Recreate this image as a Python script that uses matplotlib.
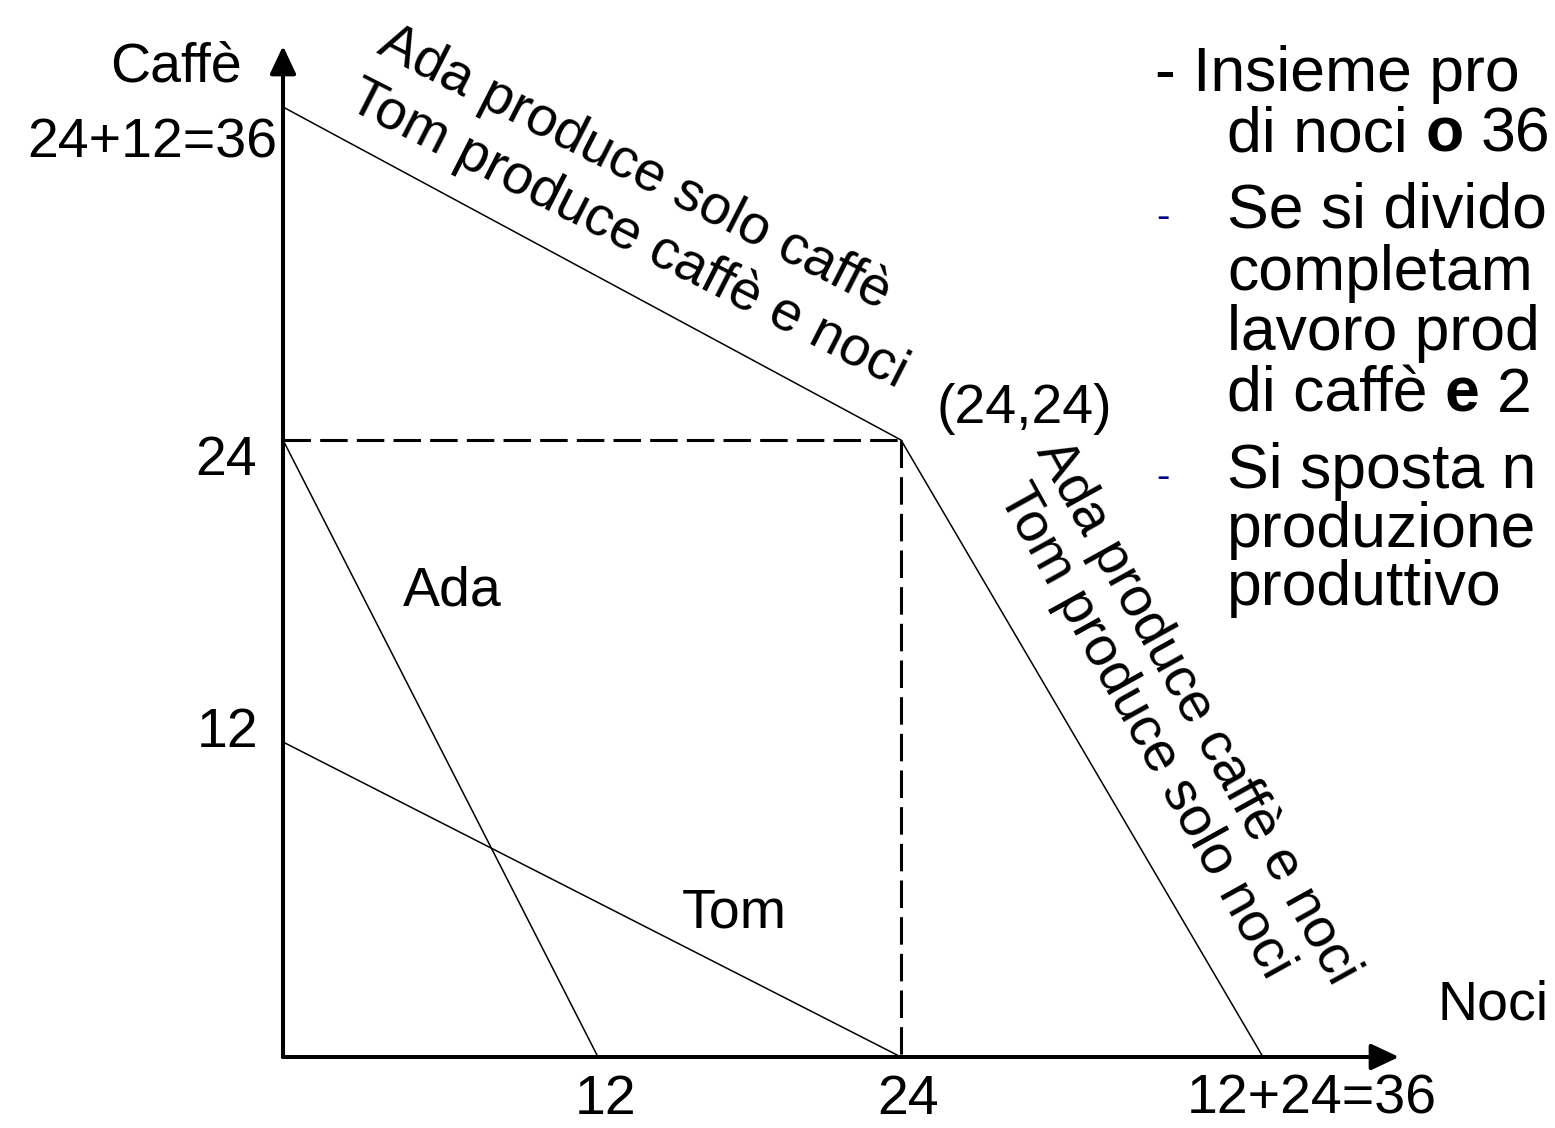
import numpy as np
import matplotlib
matplotlib.use("Agg")
import matplotlib.pyplot as plt

# ---------------- data ----------------
noci_ticks = [12, 24, 36]
noci_tick_labels = ["12", "24", "12+24=36"]
caffe_ticks = [12, 24, 36]
caffe_tick_labels = ["12", "24", "24+12=36"]

ada_noci = [0, 12]
ada_caffe = [24, 0]
tom_noci = [0, 24]
tom_caffe = [12, 0]
ppf_noci = [0, 24, 36]
ppf_caffe = [36, 24, 0]
corner = (24, 24)

# visible part of the slide text (cut by the right edge in the original)
bullet_lines = [
    [("- Insieme prod", False)],
    [("di noci", False), ("o", True), ("36", False)],
    [("Se si divido", False)],
    [("completame", False)],
    [("lavoro produ", False)],
    [("di caffè", False), ("e", True), ("24", False)],
    [("Si sposta ne", False)],
    [("produzione", False)],
    [("produttivo", False)],
]

# ---------------- layout ----------------
W, H = 1555, 1128
FONT = ["Liberation Sans", "DejaVu Sans"]
plt.rcParams["font.family"] = FONT

fig = plt.figure(figsize=(W / 100, H / 100), dpi=100)
fig.patch.set_facecolor("white")


def fx(x):
    return x / W


def fy(y):
    return 1 - y / H


def piecewise(kv, kp):
    kv = np.asarray(kv, float)
    kp = np.asarray(kp, float)
    s0 = (kp[1] - kp[0]) / (kv[1] - kv[0])
    s1 = (kp[-1] - kp[-2]) / (kv[-1] - kv[-2])

    def make(a, b, sa, sb):
        def f(v):
            v = np.asarray(v, float)
            out = np.interp(v, a, b)
            out = np.where(v > a[-1], b[-1] + (v - a[-1]) * sb, out)
            out = np.where(v < a[0], b[0] + (v - a[0]) * sa, out)
            return out
        return f

    return make(kv, kp, s0, s1), make(kp, kv, 1 / s0, 1 / s1)


# hand-drawn (not to scale) axis knots
x_fwd, x_inv = piecewise([0, 12, 24, 36], [0, 315, 618, 980])
y_fwd, y_inv = piecewise([0, 12, 24, 36], [0, 315, 617, 950])

ox, oy = 283, 1057
ax_w, ax_h = 1116, 1011
ax = fig.add_axes([fx(ox), fy(oy), ax_w / W, ax_h / H])
ax.set_xscale("function", functions=(x_fwd, x_inv))
ax.set_yscale("function", functions=(y_fwd, y_inv))
ax.set_xlim(0, float(x_inv(ax_w)))
ax.set_ylim(0, float(y_inv(ax_h)))
ax.axis("off")

# axes arrows
arrow_kw = dict(arrowstyle="-|>,head_length=17,head_width=8", mutation_scale=1,
                lw=2.9, color="black", shrinkA=0, shrinkB=0)
ax.annotate("", xy=(1, 0), xytext=(0, 0), xycoords="axes fraction",
            textcoords="axes fraction", arrowprops=arrow_kw, annotation_clip=False)
ax.annotate("", xy=(0, 1), xytext=(0, 0), xycoords="axes fraction",
            textcoords="axes fraction", arrowprops=arrow_kw, annotation_clip=False)

# lines
ax.plot(ppf_noci, ppf_caffe, color="black", lw=1.1, clip_on=False)
ax.plot(ada_noci, ada_caffe, color="black", lw=1.1, clip_on=False)
ax.plot(tom_noci, tom_caffe, color="black", lw=1.1, clip_on=False)
ax.plot([0, corner[0]], [corner[1], corner[1]], color="black", lw=2.2,
        linestyle=(0, (9, 3)), clip_on=False)
ax.plot([corner[0], corner[0]], [corner[1], 0], color="black", lw=2.2,
        linestyle=(0, (9, 3)), clip_on=False)

FS = 40

# tick labels
x_off = [(8, -57), (7, -57), (49, -57)]
for t, lab, (dx, dy) in zip(noci_ticks, noci_tick_labels, x_off):
    ax.annotate(lab, xy=(t, 0), xytext=(dx, dy), textcoords="offset pixels",
                ha="center", va="baseline", fontsize=FS, annotation_clip=False)
y_off = [(-25, -5), (-26, -35), (-6, -50)]
for t, lab, (dx, dy) in zip(caffe_ticks, caffe_tick_labels, y_off):
    ax.annotate(lab, xy=(0, t), xytext=(dx, dy), textcoords="offset pixels",
                ha="right", va="baseline", fontsize=FS, annotation_clip=False)

ax.annotate("(24,24)", xy=corner, xytext=(35, 17), textcoords="offset pixels",
            ha="left", va="baseline", fontsize=FS, annotation_clip=False)

# axis names and curve names
fig.text(fx(242), fy(82), "Caffè", ha="right", va="baseline", fontsize=FS)
fig.text(fx(1438), fy(1020), "Noci", ha="left", va="baseline", fontsize=FS)
fig.text(fx(403), fy(605), "Ada", ha="left", va="baseline", fontsize=FS)
fig.text(fx(682), fy(928), "Tom", ha="left", va="baseline", fontsize=FS)

# rotated segment descriptions
rot_texts = [
    ("Ada produce solo caffè", 635, 168, -27),
    ("Tom produce caffè e noci", 628, 235, -27),
    ("Ada produce caffè e noci", 1197, 712, -61),
    ("Tom produce solo noci", 1145, 732, -61),
]
for s, x, y, r in rot_texts:
    fig.text(fx(x), fy(y), s, rotation=r, rotation_mode="anchor",
             ha="center", va="center", fontsize=FS)

# right-hand bullet text (trimmed to what fits inside the picture)
renderer = fig.canvas.get_renderer()
FS2 = 45
space_px = 0.278 * FS2 * 100 / 72
line_specs = [(1155, 91), (1227, 152), (1227, 228), (1227, 290), (1227, 350),
              (1227, 412), (1227, 488), (1227, 547), (1227, 605)]
for runs, (x0, yb) in zip(bullet_lines, line_specs):
    x = x0
    for i, (s, bold) in enumerate(runs):
        if i > 0:
            x += space_px
        t = fig.text(fx(x), fy(yb), s, ha="left", va="baseline", fontsize=FS2,
                     fontweight="bold" if bold else "normal")
        bb = t.get_window_extent(renderer)
        while bb.x1 > W - 1 and len(t.get_text()) > 1:
            t.set_text(t.get_text()[:-1])
            bb = t.get_window_extent(renderer)
        x = bb.x1
for yb in (228, 488):
    fig.text(fx(1156), fy(yb), "-", ha="left", va="baseline", fontsize=29,
             color="#000080")

fig.savefig("out.png", dpi=100, facecolor="white")
